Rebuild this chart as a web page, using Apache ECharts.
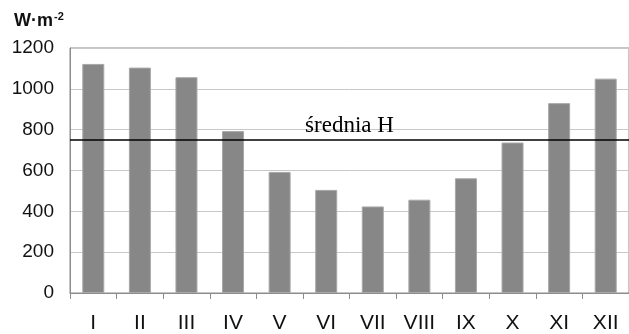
<!DOCTYPE html>
<html>
<head>
<meta charset="utf-8">
<script src="https://cdn.jsdelivr.net/npm/echarts@6/dist/echarts.min.js"></script>
<style>
  html, body { margin: 0; padding: 0; background: #fff; }
  #chart { width: 629px; height: 334px; }
</style>
</head>
<body>
<div id="chart"></div>
<script>
// miesiące i natężenie promieniowania
const months = ['I', 'II', 'III', 'IV', 'V', 'VI', 'VII', 'VIII', 'IX', 'X', 'XI', 'XII'];
const values = [1122, 1104, 1057, 793, 593, 505, 424, 457, 562, 737, 930, 1050];
const average = 753;
const averageLabel = 'średnia H';

const chart = echarts.init(document.getElementById('chart'));

chart.setOption({
  animation: false,
  title: {
    text: '{a|W·m}{b|-2}',
    left: 9,
    top: 6,
    textStyle: {
      rich: {
        a: { fontFamily: 'Liberation Sans', fontWeight: 'bold', fontSize: 18, color: '#111' },
        b: { fontFamily: 'Liberation Sans', fontWeight: 'bold', fontSize: 11, color: '#111', padding: [0, 0, 9, 1] },
      },
    },
  },
  grid: {
    left: 70,
    top: 48,
    width: 561,
    bottom: 39,
    show: true,
    borderColor: '#8c8c8c',
    borderWidth: 1,
  },
  xAxis: {
    type: 'category',
    data: months,
    axisLine: { lineStyle: { color: '#8c8c8c', width: 1 } },
    axisTick: { show: true, length: 6, lineStyle: { color: '#8c8c8c' } },
    axisLabel: {
      color: '#111',
      fontFamily: 'Liberation Sans',
      fontSize: 21,
      margin: 20,
    },
  },
  yAxis: {
    type: 'value',
    min: 0,
    max: 1200,
    interval: 200,
    axisLine: { show: true, lineStyle: { color: '#8c8c8c' } },
    axisTick: { show: false },
    splitLine: { lineStyle: { color: '#c8c8c8' } },
    axisLabel: {
      color: '#111',
      fontFamily: 'Liberation Sans',
      fontSize: 19,
      margin: 16,
      formatter: v => String(v),
    },
  },
  series: [
    {
      type: 'bar',
      data: values,
      barWidth: 22,
      itemStyle: {
        color: '#878787',
        borderColor: '#a8a8a8',
        borderWidth: 1,
      },
      markLine: {
        silent: true,
        symbol: 'none',
        lineStyle: { color: '#000', width: 1.6, type: 'solid' },
        label: {
          show: true,
          position: 'middle',
          formatter: averageLabel,
          color: '#000',
          fontFamily: 'Liberation Serif',
          fontSize: 23,
          distance: 2,
        },
        data: [{ yAxis: average }],
      },
    },
  ],
});
</script>
</body>
</html>
